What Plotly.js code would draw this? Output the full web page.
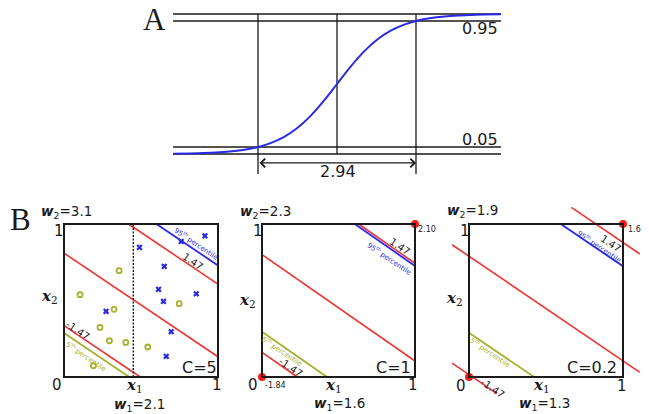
<!DOCTYPE html>
<html>
<head>
<meta charset="utf-8">
<script src="https://cdn.plot.ly/plotly-3.0.1.min.js"></script>
<style>
  html, body { margin: 0; padding: 0; background: #fff; }
  #chart { width: 649px; height: 414px; }
</style>
</head>
<body>
<div id="chart"></div>
<script>
// ---------- Panel A: logistic response curve ----------
const curveX = [-3.05, -2.75, -2.5, -2.25, -2, -1.75, -1.5, -1.25, -1, -0.75, -0.5, -0.25, 0,
                0.25, 0.5, 0.75, 1, 1.25, 1.5, 1.75, 2, 2.25, 2.5, 2.75, 3.05];
const curveY = [0.002, 0.004, 0.007, 0.011, 0.018, 0.029, 0.047, 0.076, 0.119, 0.182, 0.269, 0.378, 0.5,
                0.622, 0.731, 0.818, 0.881, 0.924, 0.953, 0.971, 0.982, 0.989, 0.993, 0.996, 0.998];
const guideLevels = [0, 0.05, 0.95, 1];
const guideMarks = [-1.47, 0, 1.47];
const levelLabels = ['0.05', '0.95'];
const spanLabel = '2.94';

// ---------- Panel B: linear classifiers for three values of C ----------
const costC = ['5', '1', '0.2'];
const weight1 = [2.1, 1.6, 1.3];
const weight2 = [3.1, 2.3, 1.9];
const bias = [-2.51, -1.84, -1.5];
const marginLevel = 1.47;
const pct95 = [1.85, 1.43, 1.175];
const pct5 = [-1.62, -1.16, -0.95];
const cornerHigh = ['', '2.10', '1.6'];
const cornerLow = ['', '-1.84', ''];

// training points (first panel)
const circleX1 = [0.358, 0.104, 0.325, 0.234, 0.295, 0.401, 0.544, 0.191, 0.748];
const circleX2 = [0.695, 0.538, 0.442, 0.324, 0.237, 0.226, 0.196, 0.074, 0.479];
const crossX1 = [0.49, 0.761, 0.915, 0.651, 0.614, 0.646, 0.859, 0.273, 0.696, 0.664];
const crossX2 = [0.847, 0.886, 0.922, 0.723, 0.573, 0.494, 0.544, 0.429, 0.296, 0.135];
const splitX1 = 0.45;

// ---------- layout helpers ----------
const W = 649, H = 414;
const RED = '#f03434', BLUE = '#2a2ae4', OLIVE = '#a6b02a', INK = '#1a1a1a';

function xAxisFor(pxA, vA, pxB, vB, d0, d1) {
  const k = (vB - vA) / (pxB - pxA);
  return { domain: [d0 / W, d1 / W], range: [vA + (d0 - pxA) * k, vA + (d1 - pxA) * k] };
}
function yAxisFor(pxA, vA, pxB, vB, d0, d1) {
  const k = (vB - vA) / (pxB - pxA);
  return { domain: [1 - d1 / H, 1 - d0 / H], range: [vA + (d1 - pxA) * k, vA + (d0 - pxA) * k] };
}
const hidden = { visible: false, fixedrange: true };

function note(text, px, py, size, extra) {
  return Object.assign({
    text: text, x: px / W, y: 1 - py / H, xref: 'paper', yref: 'paper',
    xanchor: 'center', yanchor: 'middle', showarrow: false,
    font: { size: size, color: INK, family: 'DejaVu Sans' }
  }, extra || {});
}

// segment of w1*x + w2*y = c inside the square [lo, hi]^2
function segment(w1, w2, c, lo, hi) {
  const xa = Math.max(lo, (c - w2 * hi) / w1);
  const xb = Math.min(hi, (c - w2 * lo) / w1);
  if (xa >= xb) return null;
  return { x: [xa, xb], y: [(c - w1 * xa) / w2, (c - w1 * xb) / w2] };
}

const traces = [];
const shapes = [];
const annotations = [];
const layout = {
  width: W, height: H, margin: { l: 0, r: 0, t: 0, b: 0 },
  paper_bgcolor: '#fff', plot_bgcolor: 'rgba(0,0,0,0)', showlegend: false,
  font: { family: 'DejaVu Sans', color: INK, size: 12 }
};

// ----- Panel A axes: x=0 at px 337, 1.47 at px 416; y=0 at px 154, y=1 at px 14
layout.xaxis = Object.assign({}, hidden, xAxisFor(337, 0, 416, 1.47, 165, 512));
layout.yaxis = Object.assign({}, hidden, yAxisFor(154, 0, 14, 1, 4, 186));

const xLo = curveX[0], xHi = curveX[curveX.length - 1];
guideLevels.forEach(function (lv) {
  traces.push({ x: [xLo, xHi], y: [lv, lv], xaxis: 'x', yaxis: 'y', mode: 'lines',
    line: { color: INK, width: 1.3 }, hoverinfo: 'skip' });
});
const markBottom = -0.143;
guideMarks.forEach(function (m) {
  traces.push({ x: [m, m], y: [1, m === 0 ? 0 : markBottom], xaxis: 'x', yaxis: 'y', mode: 'lines',
    line: { color: INK, width: 1.3 }, hoverinfo: 'skip' });
});
traces.push({ x: curveX, y: curveY, xaxis: 'x', yaxis: 'y', mode: 'lines',
  line: { color: BLUE, width: 2, shape: 'spline' }, hoverinfo: 'skip' });

const arrowY = -0.064;
annotations.push({
  x: guideMarks[2], y: arrowY, ax: guideMarks[0], ay: arrowY, xref: 'x', yref: 'y', axref: 'x', ayref: 'y',
  text: '', showarrow: true, arrowside: 'end+start', arrowhead: 4, startarrowhead: 4,
  arrowsize: 1.4, startarrowsize: 1.4, arrowwidth: 1.2, arrowcolor: INK, standoff: 0, startstandoff: 0
});
annotations.push(note(spanLabel, 338, 171, 16));
annotations.push(note(levelLabels[1], 480, 29, 16));
annotations.push(note(levelLabels[0], 480, 140, 16));
annotations.push(note('A', 154, 20, 31, { font: { size: 31, color: INK, family: 'Liberation Serif' } }));
annotations.push(note('B', 20, 219, 31, { font: { size: 31, color: INK, family: 'Liberation Serif' } }));

// ----- Panel B: three unit squares
const boxLeft = [64, 262, 469], boxRight = [218, 415, 623];
const boxTop = 224, boxBottom = 377;
const lo = -0.11, hi = 1.11;

for (let i = 0; i < 3; i++) {
  const n = i + 2;
  const xa = 'x' + n, ya = 'y' + n;
  const bw = boxRight[i] - boxLeft[i], bh = boxBottom - boxTop;
  layout['xaxis' + n] = Object.assign({}, hidden,
    xAxisFor(boxLeft[i], 0, boxRight[i], 1, boxLeft[i] + lo * bw, boxLeft[i] + hi * bw));
  layout['yaxis' + n] = Object.assign({}, hidden,
    yAxisFor(boxBottom, 0, boxTop, 1, boxTop - (hi - 1) * bh, boxBottom - lo * bh));

  // red lines: decision boundary and the two margin lines
  const redLo = i === 2 ? lo : 0, redHi = i === 2 ? hi : 1;
  [-marginLevel, 0, marginLevel].forEach(function (lv) {
    const s = segment(weight1[i], weight2[i], lv - bias[i], redLo, redHi);
    if (s) traces.push({ x: s.x, y: s.y, xaxis: xa, yaxis: ya, mode: 'lines',
      line: { color: RED, width: 1.6 }, hoverinfo: 'skip' });
  });
  // percentile lines
  [[pct95[i], BLUE], [pct5[i], OLIVE]].forEach(function (p) {
    const s = segment(weight1[i], weight2[i], p[0] - bias[i], 0, 1);
    if (s) traces.push({ x: s.x, y: s.y, xaxis: xa, yaxis: ya, mode: 'lines',
      line: { color: p[1], width: 1.8 }, hoverinfo: 'skip' });
  });

  shapes.push({ type: 'rect', xref: xa, yref: ya, x0: 0, x1: 1, y0: 0, y1: 1,
    line: { color: INK, width: 2 }, layer: 'above' });

  if (cornerHigh[i] !== '') {
    traces.push({ x: [0, 1], y: [0, 1], xaxis: xa, yaxis: ya, mode: 'markers', cliponaxis: false,
      marker: { color: '#ff1a1a', size: 8 }, hoverinfo: 'skip' });
  }
}

// training data, first panel
traces.push({ x: [splitX1, splitX1], y: [0, 1], xaxis: 'x2', yaxis: 'y2', mode: 'lines',
  line: { color: INK, width: 1.4, dash: '2px,1.5px' }, hoverinfo: 'skip' });
traces.push({ x: circleX1, y: circleX2, xaxis: 'x2', yaxis: 'y2', mode: 'markers',
  marker: { symbol: 'circle-open', size: 5, color: OLIVE, line: { width: 1.8, color: OLIVE } }, hoverinfo: 'skip' });
traces.push({ x: crossX1, y: crossX2, xaxis: 'x2', yaxis: 'y2', mode: 'markers',
  marker: { symbol: 'x', size: 5.5, color: BLUE, line: { width: 0 } }, hoverinfo: 'skip' });

// panel text
const serifB = 'DejaVu Serif';
function wLabel(k, v) { return '<b><i>w</i></b><sub>' + k + '</sub>=' + v; }
function xLabel(k) { return '<b><i>x</i></b><sub>' + k + '</sub>'; }
const ang = 34;
const pos = [
  { w2: [66, 212], w1: [139, 405], one: [59, 231], zero: [57, 385], oneR: [217, 385], x1: [134, 385], x2: [49, 296],
    C: [199, 367], up: [193, 261], dn: [78, 330], p95: [196, 243], p5: [86, 356] },
  { w2: [265, 212], w1: [339, 404], one: [258, 231], zero: [253, 385], oneR: [413, 385], x1: [333, 385], x2: [247, 300],
    C: [393, 367], up: [400, 246], dn: [291, 367], p95: [389, 258], p5: [282, 351], hiT: [427, 229], loT: [275, 385] },
  { w2: [472, 211], w1: [544, 404], one: [465, 231], zero: [461, 386], oneR: [622, 386], x1: [541, 385], x2: [454, 298],
    C: [592, 367], up: [611, 243], dn: [493, 388], p95: [599, 246], p5: [490, 352], hiT: [634, 229] }
];
for (let i = 0; i < 3; i++) {
  const p = pos[i];
  annotations.push(note(wLabel(2, weight2[i]), p.w2[0], p.w2[1], 13.5));
  annotations.push(note(wLabel(1, weight1[i]), p.w1[0], p.w1[1], 13.5));
  annotations.push(note('1', p.one[0], p.one[1], 15));
  annotations.push(note('0', p.zero[0], p.zero[1], 15));
  annotations.push(note('1', p.oneR[0], p.oneR[1], 15));
  annotations.push(note(xLabel(1), p.x1[0], p.x1[1], 15, { font: { size: 15, color: INK, family: serifB } }));
  annotations.push(note(xLabel(2), p.x2[0], p.x2[1], 15, { font: { size: 15, color: INK, family: serifB } }));
  annotations.push(note('C=' + costC[i], p.C[0], p.C[1], 16));
  annotations.push(note(String(marginLevel), p.up[0], p.up[1], 10, { textangle: ang }));
  annotations.push(note('-' + marginLevel, p.dn[0], p.dn[1], 10, { textangle: ang }));
  annotations.push(note('95<sup>th</sup> percentile', p.p95[0], p.p95[1], 7,
    { textangle: ang, font: { size: 7, color: BLUE, family: 'DejaVu Sans' } }));
  annotations.push(note('5<sup>th</sup> percentile', p.p5[0], p.p5[1], 7,
    { textangle: ang, font: { size: 7, color: OLIVE, family: 'DejaVu Sans' } }));
  if (cornerHigh[i] !== '') annotations.push(note(cornerHigh[i], p.hiT[0], p.hiT[1], 8));
  if (cornerLow[i] !== '') annotations.push(note(cornerLow[i], p.loT[0], p.loT[1], 8));
}

layout.shapes = shapes;
layout.annotations = annotations;

Plotly.newPlot('chart', traces, layout, { staticPlot: true, displayModeBar: false });
</script>
</body>
</html>
